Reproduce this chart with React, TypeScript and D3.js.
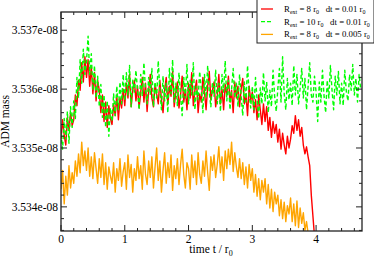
import React from "react";
import * as d3 from "d3";

// ADM mass in units of 1e-8, sampled every DT in time t / r0
const DT = 0.025;

const redR8dt01 = [
3.53515,3.53548,3.53522,3.53505,3.53552,3.53530,3.53560,3.53538,
3.53548,3.53590,3.53572,3.53615,3.53598,3.53645,3.53612,3.53655,
3.53620,3.53650,3.53605,3.53638,3.53592,3.53628,3.53580,3.53615,
3.53598,3.53560,3.53590,3.53545,3.53578,3.53535,3.53572,3.53550,
3.53540,3.53575,3.53555,3.53590,3.53548,3.53585,3.53568,3.53600,
3.53572,3.53610,3.53585,3.53625,3.53570,3.53598,3.53615,3.53580,
3.53605,3.53568,3.53595,3.53620,3.53578,3.53610,3.53562,3.53598,
3.53625,3.53585,3.53570,3.53608,3.53592,3.53575,3.53615,3.53582,
3.53560,3.53598,3.53620,3.53575,3.53605,3.53588,3.53630,3.53570,
3.53595,3.53612,3.53568,3.53590,3.53622,3.53578,3.53600,3.53565,
3.53610,3.53585,3.53628,3.53572,3.53598,3.53615,3.53560,3.53592,
3.53578,3.53620,3.53595,3.53565,3.53605,3.53630,3.53582,3.53598,
3.53612,3.53570,3.53588,3.53625,3.53575,3.53600,3.53565,3.53608,
3.53590,3.53622,3.53578,3.53598,3.53560,3.53612,3.53585,3.53605,
3.53570,3.53600,3.53618,3.53575,3.53592,3.53555,3.53605,3.53580,
3.53595,3.53560,3.53582,3.53548,3.53590,3.53565,3.53540,3.53575,
3.53545,3.53570,3.53530,3.53552,3.53518,3.53545,3.53525,3.53540,
3.53510,3.53532,3.53498,3.53525,3.53505,3.53490,3.53520,3.53500,
3.53515,3.53538,3.53525,3.53555,3.53530,3.53548,3.53520,3.53535,
3.53505,3.53490,3.53502,3.53485,3.53470,3.53420,3.53385,3.53350,
];

const greenR10dt01 = [
3.53525,3.53498,3.53550,3.53515,3.53562,3.53508,3.53570,3.53535,
3.53580,3.53550,3.53620,3.53585,3.53650,3.53610,3.53668,3.53625,
3.53648,3.53690,3.53625,3.53660,3.53598,3.53640,3.53585,3.53622,
3.53570,3.53608,3.53552,3.53590,3.53535,3.53580,3.53520,3.53568,
3.53545,3.53592,3.53555,3.53605,3.53565,3.53612,3.53575,3.53625,
3.53580,3.53628,3.53590,3.53640,3.53570,3.53615,3.53595,3.53632,
3.53598,3.53565,3.53625,3.53588,3.53645,3.53600,3.53575,3.53620,
3.53590,3.53635,3.53570,3.53612,3.53585,3.53648,3.53598,3.53565,
3.53622,3.53580,3.53610,3.53560,3.53635,3.53592,3.53650,3.53578,
3.53610,3.53572,3.53628,3.53590,3.53555,3.53620,3.53585,3.53642,
3.53575,3.53615,3.53590,3.53645,3.53565,3.53605,3.53582,3.53630,
3.53600,3.53560,3.53625,3.53585,3.53640,3.53595,3.53570,3.53612,
3.53588,3.53632,3.53575,3.53610,3.53562,3.53625,3.53595,3.53648,
3.53580,3.53615,3.53565,3.53600,3.53635,3.53585,3.53610,3.53570,
3.53625,3.53588,3.53555,3.53612,3.53578,3.53640,3.53592,3.53568,
3.53605,3.53565,3.53620,3.53582,3.53550,3.53602,3.53575,3.53628,
3.53580,3.53612,3.53560,3.53598,3.53570,3.53632,3.53588,3.53562,
3.53600,3.53635,3.53578,3.53655,3.53592,3.53565,3.53618,3.53582,
3.53610,3.53572,3.53640,3.53590,3.53625,3.53575,3.53602,3.53635,
3.53585,3.53618,3.53565,3.53605,3.53645,3.53590,3.53578,3.53622,
3.53595,3.53545,3.53612,3.53578,3.53632,3.53588,3.53560,3.53615,
3.53585,3.53640,3.53598,3.53565,3.53622,3.53590,3.53630,3.53575,
3.53610,3.53572,3.53632,3.53595,3.53580,3.53625,3.53598,3.53642,
3.53590,3.53618,3.53578,3.53625,3.53600,
];

const orangeR8dt005 = [
3.53430,3.53462,3.53405,3.53452,3.53420,3.53470,3.53432,3.53458,
3.53440,3.53478,3.53452,3.53490,3.53458,3.53510,3.53470,3.53495,
3.53462,3.53500,3.53452,3.53485,3.53448,3.53492,3.53465,3.53440,
3.53482,3.53450,3.53490,3.53438,3.53475,3.53430,3.53468,3.53452,
3.53440,3.53475,3.53425,3.53465,3.53445,3.53482,3.53435,3.53460,
3.53475,3.53430,3.53488,3.53450,3.53472,3.53425,3.53465,3.53445,
3.53485,3.53448,3.53470,3.53430,3.53495,3.53455,3.53438,3.53478,
3.53450,3.53485,3.53432,3.53468,3.53500,3.53445,3.53478,3.53425,
3.53462,3.53492,3.53440,3.53475,3.53450,3.53488,3.53428,3.53470,
3.53448,3.53482,3.53438,3.53472,3.53498,3.53455,3.53432,3.53475,
3.53465,3.53430,3.53488,3.53450,3.53478,3.53438,3.53492,3.53455,
3.53440,3.53478,3.53452,3.53495,3.53458,3.53428,3.53485,3.53462,
3.53488,3.53450,3.53472,3.53502,3.53458,3.53485,3.53445,3.53495,
3.53465,3.53498,3.53472,3.53510,3.53460,3.53492,3.53468,3.53450,
3.53482,3.53448,3.53475,3.53438,3.53468,3.53432,3.53472,3.53445,
3.53465,3.53425,3.53455,3.53418,3.53448,3.53412,3.53445,3.53425,
3.53448,3.53405,3.53438,3.53398,3.53430,3.53392,3.53425,3.53405,
3.53420,3.53385,3.53412,3.53380,3.53408,3.53375,3.53402,3.53388,
3.53415,3.53375,3.53405,3.53368,3.53410,3.53365,3.53398,3.53372,
3.53390,3.53360,3.53375,3.53355,3.53345,
];

const xTicks = [0, 1, 2, 3, 4];
const yTicks = [3.534, 3.535, 3.536, 3.537];
const yTickLabels = ["3.534e-08", "3.535e-08", "3.536e-08", "3.537e-08"];
const legendRext = ["8", "10", "8"];
const legendDt = ["0.01", "0.01", "0.005"];

const W = 374, H = 260;
const L = 61, R = 362, T = 12, B = 231;
const FONT = "'Liberation Serif', 'DejaVu Serif', serif";

export default function App() {
  const x = d3.scaleLinear().domain([0, 4.72]).range([L, R]);
  const y = d3.scaleLinear().domain([3.53359, 3.53731]).range([B, T]);

  const line = d3
    .line<number>()
    .x((_, i) => x(i * DT))
    .y((d) => y(d));

  const series = [
    { data: redR8dt01, color: "#ff0000", dash: undefined as string | undefined },
    { data: greenR10dt01, color: "#00ff00", dash: "4,2.5" },
    { data: orangeR8dt005, color: "#ffa500", dash: undefined },
  ];

  const xMinor = d3.range(0, 4.72, 0.2).filter((v) => Math.abs(v - Math.round(v)) > 1e-6);
  const yMinor = d3.range(3.5336, 3.5373, 0.0002).filter(
    (v) => Math.abs(v * 1000 - Math.round(v * 1000)) > 1e-6 && v >= 3.53359 && v <= 3.53731
  );

  const legendX = 257, legendY = -1, legendW = 117, legendH = 44;

  return (
    <svg width={W} height={H} style={{ position: "absolute", left: 0, top: 0 }}>
      <rect x={0} y={0} width={W} height={H} fill="#fff" />
      <defs>
        <clipPath id="plot">
          <rect x={L} y={T} width={R - L} height={B - T} />
        </clipPath>
      </defs>
      <g clipPath="url(#plot)">
        {series.map((s, i) => (
          <path
            key={i}
            d={line(s.data) || ""}
            fill="none"
            stroke={s.color}
            strokeWidth={1.4}
            strokeDasharray={s.dash}
            strokeLinejoin="round"
          />
        ))}
      </g>
      {/* frame */}
      <rect x={L} y={T} width={R - L} height={B - T} fill="none" stroke="#222" strokeWidth={1.3} />
      {/* x ticks */}
      {xTicks.map((t) => (
        <g key={"xt" + t}>
          <line x1={x(t)} x2={x(t)} y1={B} y2={B - 6} stroke="#222" strokeWidth={1} />
          <line x1={x(t)} x2={x(t)} y1={T} y2={T + 6} stroke="#222" strokeWidth={1} />
          <text x={x(t)} y={243} textAnchor="middle" fontFamily={FONT} fontSize={11.5} fill="#000">
            {t}
          </text>
        </g>
      ))}
      {xMinor.map((t, i) => (
        <g key={"xm" + i}>
          <line x1={x(t)} x2={x(t)} y1={B} y2={B - 3} stroke="#222" strokeWidth={1} />
          <line x1={x(t)} x2={x(t)} y1={T} y2={T + 3} stroke="#222" strokeWidth={1} />
        </g>
      ))}
      {yTicks.map((v, i) => (
        <g key={"yt" + i}>
          <line x1={L} x2={L + 6} y1={y(v)} y2={y(v)} stroke="#222" strokeWidth={1} />
          <line x1={R} x2={R - 6} y1={y(v)} y2={y(v)} stroke="#222" strokeWidth={1} />
          <text x={58} y={y(v) + 4} textAnchor="end" fontFamily={FONT} fontSize={11.5} fill="#000">
            {yTickLabels[i]}
          </text>
        </g>
      ))}
      {yMinor.map((v, i) => (
        <g key={"ym" + i}>
          <line x1={L} x2={L + 3} y1={y(v)} y2={y(v)} stroke="#222" strokeWidth={1} />
          <line x1={R} x2={R - 3} y1={y(v)} y2={y(v)} stroke="#222" strokeWidth={1} />
        </g>
      ))}
      {/* axis titles */}
      <text x={211} y={253} textAnchor="middle" fontFamily={FONT} fontSize={11.5} fill="#000">
        time t / r<tspan fontSize={8} dy={3}>0</tspan>
      </text>
      <text
        transform={`translate(9, ${(T + B) / 2}) rotate(-90)`}
        textAnchor="middle"
        fontFamily={FONT}
        fontSize={11.5}
        fill="#000"
      >
        ADM mass
      </text>
      {/* legend */}
      <rect x={legendX} y={legendY} width={legendW} height={legendH} fill="#fff" stroke="#222" strokeWidth={1} />
      {series.map((s, i) => {
        const ly = 9 + i * 12.7;
        return (
          <g key={"lg" + i}>
            <line x1={261} x2={273} y1={ly} y2={ly} stroke={s.color} strokeWidth={1.3} strokeDasharray={s.dash ? "4,2" : undefined} />
            <text x={284} y={ly + 3} fontFamily={FONT} fontSize={8.8} fill="#000" style={{ whiteSpace: "pre" }}>
              R<tspan fontSize={6} dy={2}>ext</tspan>
              <tspan dy={-2}>{` = ${legendRext[i]} r`}</tspan>
              <tspan fontSize={6} dy={2}>0</tspan>
              <tspan dy={-2}>{`   dt = ${legendDt[i]} r`}</tspan>
              <tspan fontSize={6} dy={2}>0</tspan>
            </text>
          </g>
        );
      })}
    </svg>
  );
}
